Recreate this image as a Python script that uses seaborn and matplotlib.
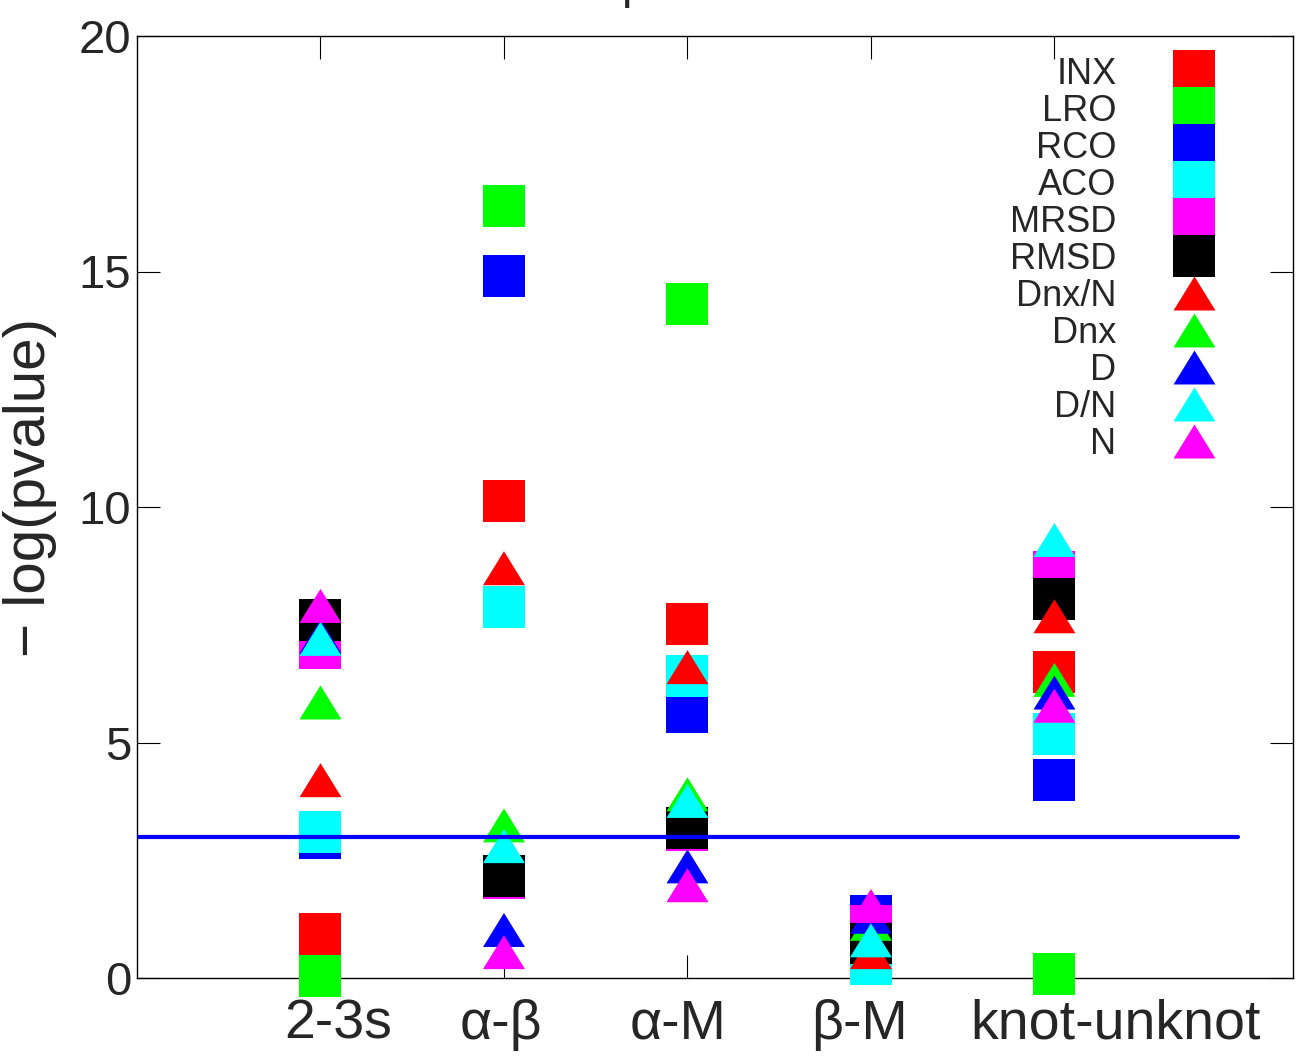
import numpy as np
import pandas as pd
import matplotlib
matplotlib.use('Agg')
import matplotlib.pyplot as plt
import matplotlib.transforms as mtransforms
from matplotlib.path import Path
from matplotlib.lines import Line2D
import seaborn as sns

# categories on the x axis
categories = ['2-3s', 'α-β', 'α-M', 'β-M', 'knot-unknot']
cat_pos = [1, 2, 3, 4, 5]

# -log(pvalue) per measure, one value per category
inx = [0.93, 10.13, 7.52, 0.9, 6.5]
lro = [0.04, 16.4, 14.3, 1.0, 0.08]
rco = [2.97, 14.9, 5.65, 1.32, 4.2]
aco = [3.1, 7.88, 6.41, 0.3, 5.18]
mrsd = [7.0, 2.12, 3.15, 1.1, 8.62]
rmsd = [7.6, 2.17, 3.18, 0.75, 8.05]
dnx_n = [4.2, 8.7, 6.6, 0.55, 7.68]
dnx = [5.85, 3.24, 3.9, 1.15, 6.33]
d = [7.25, 1.02, 2.37, 1.3, 6.06]
d_n = [7.2, 2.8, 3.76, 0.8, 9.3]
n = [7.9, 0.55, 1.97, 1.53, 5.78]

series_names = ['INX', 'LRO', 'RCO', 'ACO', 'MRSD', 'RMSD', 'Dnx/N', 'Dnx', 'D', 'D/N', 'N']
series_values = [inx, lro, rco, aco, mrsd, rmsd, dnx_n, dnx, d, d_n, n]
series_colors = ['#ff0000', '#00ff00', '#0000ff', '#00ffff', '#ff00ff', '#000000',
                 '#ff0000', '#00ff00', '#0000ff', '#00ffff', '#ff00ff']
series_shapes = ['square'] * 6 + ['triangle'] * 5

# significance threshold line
threshold = [3.0, 3.0]
threshold_x = [0, 6]

sns.set_theme(style='ticks')
plt.rcParams['font.family'] = ['Liberation Sans', 'DejaVu Sans']

# flattened triangle like gnuplot's
tri = Path([(-1, -0.81), (1, -0.81), (0, 0.81), (-1, -0.81)],
           [Path.MOVETO, Path.LINETO, Path.LINETO, Path.CLOSEPOLY])
shape_marker = {'square': 's', 'triangle': tri}

rows = []
for name, vals in zip(series_names, series_values):
    for p, v in zip(cat_pos, vals):
        rows.append({'x': p, 'y': v, 'series': name})
df = pd.DataFrame(rows)

palette = dict(zip(series_names, series_colors))
markers = {nm: shape_marker[sh] for nm, sh in zip(series_names, series_shapes)}

fig = plt.figure(figsize=(12.98, 10.56), dpi=100)
ax = fig.add_axes([137 / 1298, 78 / 1056, 1156 / 1298, 942 / 1056])

# points are not clipped, they spill over the x axis like in gnuplot
sns.scatterplot(data=df, x='x', y='y', hue='series', style='series',
                palette=palette, markers=markers, s=914, linewidth=0,
                edgecolor='none', legend=False, ax=ax, zorder=3, clip_on=False)
sns.lineplot(x=threshold_x, y=threshold, color='#0000ff', linewidth=3,
             ax=ax, zorder=4)

ax.set_xlim(0, 6.3)
ax.set_ylim(0, 20)
ax.set_yticks([0, 5, 10, 15, 20])
ax.set_xticks(cat_pos)
ax.set_xticklabels(categories)
ax.set_xlabel('')
ax.tick_params(direction='in', length=16.5, width=0.8, top=True, right=True, color='black')
ax.tick_params(axis='y', labelsize=34, pad=4)
ax.tick_params(axis='x', labelsize=40, pad=15)
for sp in ax.spines.values():
    sp.set_linewidth(1.0)
    sp.set_color('black')

# gnuplot put the x labels a bit off their ticks
label_shift = [18, -3, -9, -12, 61]
for lab, dx in zip(ax.get_xticklabels(), label_shift):
    lab.set_transform(lab.get_transform() + mtransforms.ScaledTranslation(dx / 100, 0, fig.dpi_scale_trans))

ax.set_ylabel('− log(pvalue)', fontsize=42)
ax.yaxis.set_label_coords(-0.069, 0.521)

handles = [Line2D([], [], linestyle='none', marker=shape_marker[sh], color=c,
                  markersize=30.2, markeredgewidth=0)
           for sh, c in zip(series_shapes, series_colors)]
ax.legend(handles, series_names, loc='upper right', bbox_to_anchor=(0.9455, 0.9777),
          frameon=False, markerfirst=False, fontsize=26, labelspacing=0.055,
          handlelength=2, handletextpad=1.14, borderpad=0, borderaxespad=0)

# title sits above the page, only the tail of the p shows
fig.text(621 / 1298, 1 + 2 / 1056, 'p', fontsize=34, va='baseline', ha='left')

fig.savefig('out.png', dpi=100)
